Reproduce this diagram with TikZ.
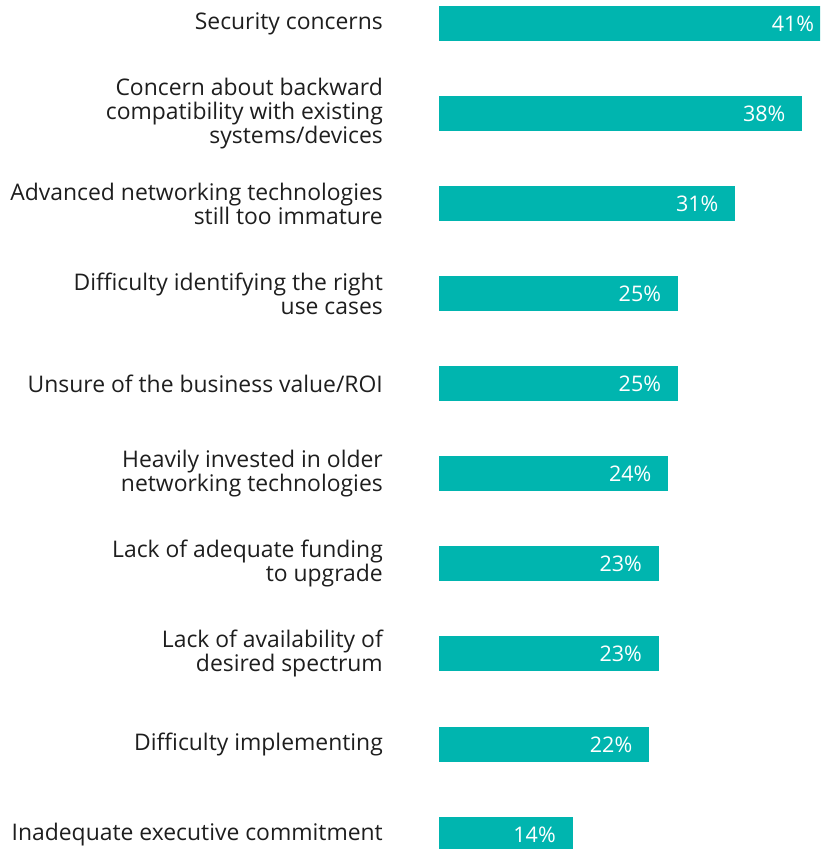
\documentclass[tikz,border=0pt]{standalone}
\usepackage{fontspec}
\setmainfont{Open Sans}
\usetikzlibrary{positioning}
\definecolor{teal}{HTML}{00B5AF}
\definecolor{ink}{HTML}{1E1E1E}

\begin{document}
\begin{tikzpicture}[x=1pt, y=-1pt,
  bar/.style = {fill=teal, anchor=west, minimum height=35pt, inner sep=0pt},
  val/.style = {anchor=east, text=white, font=\fontsize{21.5}{23}\selectfont, inner sep=0pt, xshift=-17pt},
  lbl/.style = {anchor=east, align=right, text=ink, font=\fontsize{22.9}{24}\selectfont, inner sep=0pt}]
\useasboundingbox (0,0) rectangle (820,849);
\clip (0,0) rectangle (820,849);
% bars, 9.57pt per percent
\node[bar, minimum width=392.4pt] (sec) at (438.5,23.5) {};
\node[bar, minimum width=363.7pt] (comp) at (438.5,113.5) {};
\node[bar, minimum width=296.7pt] (imm) at (438.5,203.5) {};
\node[bar, minimum width=239.3pt] (use) at (438.5,293.5) {};
\node[bar, minimum width=239.3pt] (roi) at (438.5,383.5) {};
\node[bar, minimum width=229.7pt] (old) at (438.5,473.5) {};
\node[bar, minimum width=220.1pt] (fund) at (438.5,563.5) {};
\node[bar, minimum width=220.1pt] (spec) at (438.5,653.5) {};
\node[bar, minimum width=210.5pt] (impl) at (438.5,744.5) {};
\node[bar, minimum width=134.0pt] (exec) at (438.5,834.5) {};
% values
\node[val] at (sec.east) {41\%};
\node[val] at (comp.east) {38\%};
\node[val] at (imm.east) {31\%};
\node[val] at (use.east) {25\%};
\node[val] at (roi.east) {25\%};
\node[val] at (old.east) {24\%};
\node[val] at (fund.east) {23\%};
\node[val] at (spec.east) {23\%};
\node[val] at (impl.east) {22\%};
\node[val] at (exec.east) {14\%};
% labels
\node[lbl] (secl) at (383,23.5) {Security concerns};
\node[lbl] (compl) at (383,113.5) {Concern about backward\\compatibility with existing\\systems/devices};
\node[lbl] (imml) at (383,203.5) {Advanced networking technologies\\still too immature};
\node[lbl] (usel) at (383,293.5) {Difficulty identifying the right\\use cases};
\node[lbl] (roil) at (383,383.5) {Unsure of the business value/ROI};
\node[lbl] (oldl) at (383,473.5) {Heavily invested in older\\networking technologies};
\node[lbl] (fundl) at (383,563.5) {Lack of adequate funding\\to upgrade};
\node[lbl] (specl) at (383,653.5) {Lack of availability of\\desired spectrum};
\node[lbl] (impll) at (383,744.5) {Difficulty implementing};
\node[lbl] (execl) at (383,834.5) {Inadequate executive commitment};
\end{tikzpicture}
\end{document}
